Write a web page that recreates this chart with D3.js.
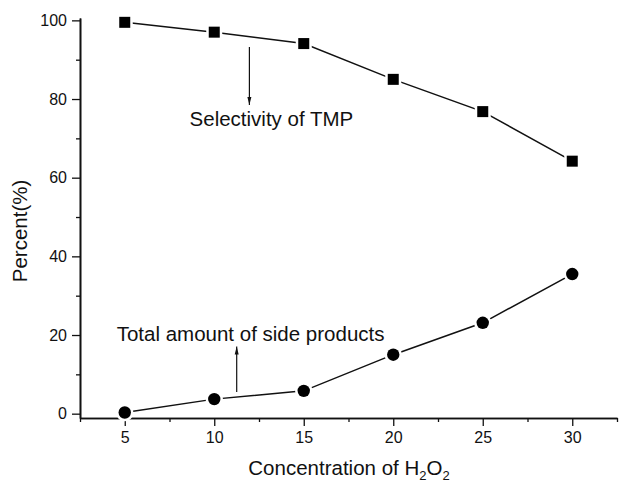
<!DOCTYPE html>
<html>
<head>
<meta charset="utf-8">
<script src="https://cdn.jsdelivr.net/npm/d3@7/dist/d3.min.js"></script>
<style>
  html, body { margin: 0; padding: 0; background: #fff; }
  svg { display: block; font-family: "Liberation Sans", Arial, Helvetica, sans-serif; }
</style>
</head>
<body>
<svg id="chart" width="619" height="483"></svg>
<script>
// ---- data ----
const concentrations = [5, 10, 15, 20, 25, 30];
const selectivityTMP = [99.5, 97.0, 94.1, 85.0, 76.8, 64.2];
const sideProducts   = [0.3, 3.7, 5.8, 15.0, 23.1, 35.5];
const xMajorTicks = [5, 10, 15, 20, 25, 30];
const xMinorTicks = [2.5, 7.5, 12.5, 17.5, 22.5, 27.5, 32.5];
const yMajorTicks = [0, 20, 40, 60, 80, 100];
const yMinorTicks = [10, 30, 50, 70, 90];

const svg = d3.select("#chart");
const ink = "#111";

const x = d3.scaleLinear().domain([2.5, 32.5]).range([80, 617]);
const y = d3.scaleLinear().domain([-1.1, 100.6]).range([418, 18]);

// ---- axes ----
const xAxisG = svg.append("g").attr("transform", `translate(0,${y(-1.1)})`);
xAxisG.call(d3.axisBottom(x).tickValues(xMinorTicks).tickSize(4).tickSizeOuter(0).tickFormat(""));
xAxisG.append("g").call(d3.axisBottom(x).tickValues(xMajorTicks).tickSize(8).tickSizeOuter(0).tickPadding(6));

const yAxisG = svg.append("g").attr("transform", `translate(${x(2.5)},0)`);
yAxisG.call(d3.axisLeft(y).tickValues(yMinorTicks).tickSize(4).tickSizeOuter(0).tickFormat(""));
yAxisG.append("g").call(d3.axisLeft(y).tickValues(yMajorTicks).tickSize(8).tickSizeOuter(0).tickPadding(5));

svg.selectAll(".domain").attr("stroke", ink).attr("stroke-width", 1.6);
svg.selectAll(".tick line").attr("stroke", ink).attr("stroke-width", 1.3);
svg.selectAll(".tick text").attr("fill", ink).style("font-size", "16px")
   .style("font-family", '"Liberation Sans", Arial, sans-serif');

// ---- axis titles ----
svg.append("text")
  .attr("transform", "rotate(-90)")
  .attr("x", -231).attr("y", 27)
  .attr("text-anchor", "middle")
  .attr("fill", ink)
  .style("font-size", "20.5px")
  .text("Percent(%)");

const xt = svg.append("text")
  .attr("x", 349).attr("y", 475)
  .attr("text-anchor", "middle")
  .attr("fill", ink)
  .style("font-size", "20.5px");
xt.append("tspan").text("Concentration of H");
xt.append("tspan").attr("dy", 4.5).style("font-size", "13px").text("2");
xt.append("tspan").attr("dy", -4.5).text("O");
xt.append("tspan").attr("dy", 4.5).style("font-size", "13px").text("2");

// ---- lines ----
const line = d3.line().x(d => x(d[0])).y(d => y(d[1]));
const selData = concentrations.map((c, i) => [c, selectivityTMP[i]]);
const sideData = concentrations.map((c, i) => [c, sideProducts[i]]);

svg.append("path").datum(selData).attr("d", line)
  .attr("fill", "none").attr("stroke", ink).attr("stroke-width", 1.5);
svg.append("path").datum(sideData).attr("d", line)
  .attr("fill", "none").attr("stroke", ink).attr("stroke-width", 1.5);

// ---- markers ----
const sq = 11;
svg.selectAll("rect.sel").data(selData).enter().append("rect")
  .attr("class", "sel")
  .attr("x", d => x(d[0]) - sq / 2).attr("y", d => y(d[1]) - sq / 2)
  .attr("width", sq).attr("height", sq)
  .attr("fill", "#000").attr("stroke", "#fff").attr("stroke-width", 5)
  .style("paint-order", "stroke");

svg.selectAll("circle.side").data(sideData).enter().append("circle")
  .attr("class", "side")
  .attr("cx", d => x(d[0])).attr("cy", d => y(d[1]))
  .attr("r", 6.2)
  .attr("fill", "#000").attr("stroke", "#fff").attr("stroke-width", 5)
  .style("paint-order", "stroke");

// ---- annotations ----
const defs = svg.append("defs");
defs.append("marker")
  .attr("id", "arrow").attr("viewBox", "0 0 10 10")
  .attr("refX", 10).attr("refY", 5)
  .attr("markerWidth", 8).attr("markerHeight", 8)
  .attr("markerUnits", "userSpaceOnUse")
  .attr("orient", "auto")
  .append("path").attr("d", "M0,2.5 L10,5 L0,7.5 Z").attr("fill", ink);

svg.append("line")
  .attr("x1", 249.4).attr("y1", 47).attr("x2", 249.4).attr("y2", 105)
  .attr("stroke", ink).attr("stroke-width", 1.2).attr("marker-end", "url(#arrow)");
svg.append("text")
  .attr("x", 189.6).attr("y", 126)
  .attr("fill", ink).style("font-size", "20.5px")
  .text("Selectivity of TMP");

svg.append("line")
  .attr("x1", 236.7).attr("y1", 392).attr("x2", 236.7).attr("y2", 346.5)
  .attr("stroke", ink).attr("stroke-width", 1.2).attr("marker-end", "url(#arrow)");
svg.append("text")
  .attr("x", 116.7).attr("y", 341)
  .attr("fill", ink).style("font-size", "20.5px")
  .text("Total amount of side products");
</script>
</body>
</html>
